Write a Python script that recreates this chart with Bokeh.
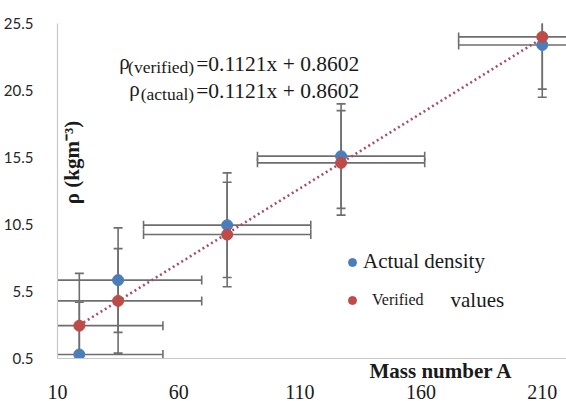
import numpy as np
from bokeh.plotting import figure
from bokeh.models import (ColumnDataSource, Range1d, FixedTicker, Label, Legend, LegendItem,
                          LinearAxis, Title)
from bokeh.embed import file_html
from bokeh.resources import INLINE

# ---- data ----
mass_number = [19, 35, 80, 127, 210]
actual_density = [0.8, 6.35, 10.45, 15.6, 23.9]
verified_values = [2.95, 4.8, 9.75, 15.1, 24.5]
x_error = [34.5, 34.5, 34.5, 34.5, 34.5]
y_error = [3.9, 3.9, 3.9, 3.9, 3.9]
trend_slope = 0.1121
trend_intercept = 0.8602
x_ticks = [10, 60, 110, 160, 210]
y_ticks = [0.5, 5.5, 10.5, 15.5, 20.5, 25.5]

BLUE = "#4A7EBB"
RED = "#BE4B48"
ERR = "#6E6E6E"
TREND = "#A4506A"
AXIS = "#C8C8C8"
SERIF = "Liberation Serif"
INK = "#1a1a1a"

p = figure(width=566, height=401, output_backend="svg", toolbar_location=None,
           x_range=Range1d(10, 220), y_range=Range1d(0.5, 25.5),
           min_border_left=56, min_border_right=0, min_border_top=23, min_border_bottom=43)
p.outline_line_color = None
p.grid.visible = False
p.background_fill_color = "white"
p.border_fill_color = "white"

# y axis
yax = p.yaxis[0]
yax.ticker = FixedTicker(ticks=y_ticks)
yax.major_tick_line_color = None
yax.minor_tick_line_color = None
yax.axis_line_color = AXIS
yax.axis_line_width = 1.2
yax.major_label_text_font = "Lato"
yax.major_label_text_font_size = "15px"
yax.major_label_text_color = "#262626"
yax.major_label_standoff = 18

# x axis line (next to the frame), then the title, then the tick labels
line_axis = p.xaxis[0]
line_axis.ticker = FixedTicker(ticks=[])
line_axis.major_tick_line_color = None
line_axis.minor_tick_line_color = None
line_axis.axis_line_color = AXIS
line_axis.axis_line_width = 1.2
line_axis.major_label_standoff = 0

x_title = Title(text="Mass number A", align="left", offset=312, standoff=-4,
                text_font=SERIF, text_font_size="21px", text_font_style="bold",
                text_color=INK)

tick_axis = LinearAxis(ticker=FixedTicker(ticks=x_ticks), axis_line_color=None,
                       major_tick_line_color=None, minor_tick_line_color=None,
                       major_label_text_font=SERIF, major_label_text_font_size="20px",
                       major_label_text_color=INK, major_label_standoff=-2)
p.below = [line_axis, x_title, tick_axis]

# pixel helpers for placing annotation text (layout only)
FRAME_LEFT, FRAME_BOTTOM = 56, 358
def dx(px):
    return 10 + (px - FRAME_LEFT) / 2.43
def dy(py):
    return 0.5 + (FRAME_BOTTOM - py) / 13.4

def error_bars(xs, ys, xe, ye):
    xs = np.asarray(xs, float); ys = np.asarray(ys, float)
    xe = np.asarray(xe, float); ye = np.asarray(ye, float)
    p.segment(x0=xs - xe, y0=ys, x1=xs + xe, y1=ys, line_color=ERR, line_width=1.6)
    p.segment(x0=xs, y0=ys - ye, x1=xs, y1=ys + ye, line_color=ERR, line_width=1.6)
    p.scatter(x=np.concatenate([xs - xe, xs + xe]), y=np.concatenate([ys, ys]),
              marker="dash", size=9, angle=np.pi / 2, line_color=ERR, line_width=1.6)
    p.scatter(x=np.concatenate([xs, xs]), y=np.concatenate([ys - ye, ys + ye]),
              marker="dash", size=9, line_color=ERR, line_width=1.6)

error_bars(mass_number, actual_density, x_error, y_error)
error_bars(mass_number, verified_values, x_error, y_error)

# trendline
tx = np.array([min(mass_number), max(mass_number)], float)
p.line(tx, trend_slope * tx + trend_intercept, line_color=TREND, line_width=2.6, line_dash="2 3")

src = ColumnDataSource(dict(x=mass_number, a=actual_density, v=verified_values))
r_blue = p.scatter("x", "a", source=src, size=11, fill_color=BLUE, line_color=BLUE)
r_red = p.scatter("x", "v", source=src, size=11, fill_color=RED, line_color=RED)

# legends
leg1 = Legend(items=[LegendItem(label="Actual density", renderers=[r_blue])],
              location=(285, 84), glyph_width=20, glyph_height=20, label_standoff=1,
              padding=0, margin=0, spacing=0, border_line_alpha=0, background_fill_alpha=0,
              label_text_font=SERIF, label_text_font_size="21px", label_text_color=INK)
leg2 = Legend(items=[LegendItem(label="Verified", renderers=[r_red])],
              location=(285, 48), glyph_width=20, glyph_height=20, label_standoff=10,
              padding=0, margin=0, spacing=0, border_line_alpha=0, background_fill_alpha=0,
              label_text_font=SERIF, label_text_font_size="16px", label_text_color=INK)
p.add_layout(leg1)
p.add_layout(leg2)

def txt(px, py, text, size, **kw):
    p.add_layout(Label(x=dx(px), y=dy(py), text=text, text_font=SERIF,
                       text_font_size=size, text_color=INK, text_baseline="middle", **kw))

txt(450, 299.5, "values", "21px")

# equations
eq_lines = [("(verified)", 118, 63.4), ("(actual)", 128, 90.1)]
for sub, rho_x, mid in eq_lines:
    txt(rho_x, mid - 2, "ρ", "21px")
    txt(193, mid + 3, sub, "17.5px", text_align="right")
    txt(195, mid, "=0.1121x + 0.8602", "21.5px")

# y axis title inside the frame, as in the reference
txt(71, 162, "ρ (kgm⁻³)", "21px", text_font_style="bold", text_align="center",
    angle=np.pi / 2)

open("out.html", "w").write(file_html(p, INLINE))
